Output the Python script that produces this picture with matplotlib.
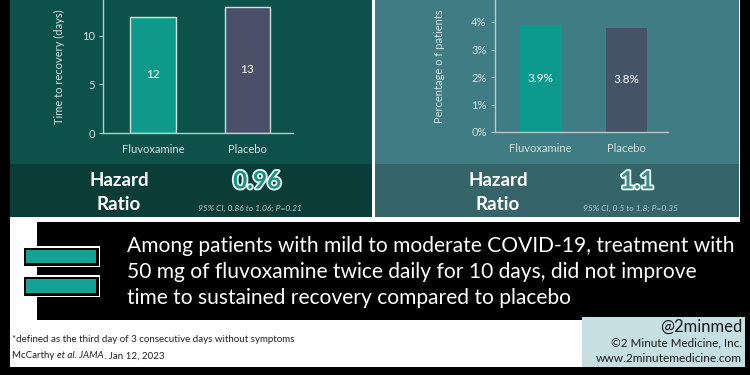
import matplotlib
matplotlib.use("Agg")
import matplotlib.pyplot as plt
from matplotlib.patches import Rectangle
import matplotlib.patheffects as pe

# ---------------- data ----------------
categories = ["Fluvoxamine", "Placebo"]
recovery_days = [12, 13]
recovery_labels = ["12", "13"]
recovery_ticks = [0, 5, 10]
hosp_pct = [3.9, 3.8]
hosp_labels = ["3.9%", "3.8%"]
hosp_ticks = [0, 1, 2, 3, 4]
hosp_ticklabels = ["0%", "1%", "2%", "3%", "4%"]
hr_left = "0.96"
ci_left = "95% CI, 0.86 to 1.06; P=0.21"
hr_right = "1.1"
ci_right = "95% CI, 0.5 to 1.8; P=0.35"
headline = ("Among patients with mild to moderate COVID-19, treatment with\n"
            "50 mg of fluvoxamine twice daily for 10 days, did not improve\n"
            "time to sustained recovery compared to placebo")
footnote = "*defined as the third day of 3 consecutive days without symptoms"

FONT = "Lato"
plt.rcParams['font.family'] = [FONT, 'DejaVu Sans']

W, H = 750, 375
fig = plt.figure(figsize=(7.5, 3.75), dpi=100)
fig.patch.set_facecolor("black")


def rect(x0, y0, x1, y1, color, z=0, **kw):
    fig.add_artist(Rectangle((x0 / W, 1 - y1 / H), (x1 - x0) / W, (y1 - y0) / H,
                             transform=fig.transFigure, facecolor=color,
                             edgecolor=kw.pop("ec", "none"), zorder=z, **kw))


def txt(x, y, s, **kw):
    return fig.text(x / W, 1 - y / H, s, **kw)


# backgrounds
rect(10, 0, 740, 367, "white", z=0)
rect(10, 0, 372, 164, "#0c524b", z=1)
rect(10, 164, 372, 217, "#0a3d38", z=1)
rect(375, 0, 739, 164, "#407c83", z=1)
rect(375, 164, 739, 217, "#356569", z=1)
rect(37, 222, 750, 320, "black", z=1)
rect(582, 317, 745, 367, "#c6dfe3", z=2)

# icon
for (y0, y1) in [(246, 267), (275, 297)]:
    rect(22, y0, 100, y1, "white", z=3)
    rect(23.5, y0 + 1.5, 98.5, y1 - 1.5, "black", z=3)
    rect(26, y0 + 4, 96, y1 - 4, "#14a196", z=3)

tick_col = "#d5e2e0"
spine_col = "#b9cbc9"


def make_axes(x0, x1, ybot, ymax, vals, labels, colors, edge, ticks, ticklabels, ylabel, ylabel_x):
    ax = fig.add_axes([x0 / W, 1 - ybot / H, (x1 - x0) / W, ybot / H])
    ax.set_facecolor("none")
    ax.set_zorder(5)
    xs = list(range(len(categories)))
    ax.bar(xs, vals, width=0.48, color=colors,
           edgecolor=edge if edge else "none", linewidth=1.0 if edge else 0)
    for xi, v, lab in zip(xs, vals, labels):
        ax.text(xi, v / 2, lab, ha="center", va="center", color="white", fontsize=8.5)
    ax.set_xlim(-0.53, 1.485)
    ax.set_ylim(0, ymax)
    ax.set_xticks(xs)
    ax.set_xticklabels(categories)
    ax.set_yticks(ticks)
    ax.set_yticklabels(ticklabels)
    for s in ["top", "right"]:
        ax.spines[s].set_visible(False)
    for s in ["left", "bottom"]:
        ax.spines[s].set_color(spine_col)
        ax.spines[s].set_linewidth(1.0)
    ax.tick_params(axis="y", colors=spine_col, labelcolor=tick_col, length=3, labelsize=8, pad=3)
    ax.tick_params(axis="x", length=0, labelcolor=tick_col, labelsize=8, pad=8)
    ax.set_ylabel(ylabel, color=tick_col, fontsize=8)
    ax.yaxis.set_label_coords(ylabel_x, 0.5)
    return ax


make_axes(103, 293, 133, 13.7, recovery_days, recovery_labels,
          ["#0e9a8b", "#4a5068"], "#cfe2de", recovery_ticks,
          [str(t) for t in recovery_ticks], "Time to recovery (days)", -0.2)
make_axes(495, 668, 132, 4.8, hosp_pct, hosp_labels,
          ["#0b9a8c", "#445466"], None, hosp_ticks, hosp_ticklabels,
          "Percentage o f patients", -0.29)

# hazard ratio bands
for cx, hx, hr, ci, fill in [(119, 257, hr_left, ci_left, "#1d8f83"),
                             (498, 637, hr_right, ci_right, "#3f8a86")]:
    txt(cx, 181, "Hazard", ha="center", va="center", color="white",
        fontsize=13.5, fontweight="bold", zorder=6)
    txt(cx, 204, "Ratio", ha="center", va="center", color="white",
        fontsize=13.5, fontweight="bold", zorder=6)
    t = txt(hx, 181, hr, ha="center", va="center", color=fill,
            fontsize=17.5, fontweight="bold", zorder=6)
    t.set_path_effects([pe.Stroke(linewidth=2.6, foreground="#e6fbf7"), pe.Normal()])
    txt(hx - 7, 208, ci, ha="center", va="center", color="#b9c9c7",
        fontsize=6.1, style="italic", zorder=6)

# headline
txt(127, 272, headline, ha="left", va="center", color="white",
    fontsize=15.1, linespacing=1.38, zorder=6)

# footer
txt(12, 340, footnote, ha="left", va="center", color="#222222", fontsize=7.0, zorder=6)
pieces = [("McCarthy ", "normal"), ("et al. JAMA", "italic"), (". Jan 12, 2023", "normal")]
fig.canvas.draw()
r = fig.canvas.get_renderer()
x = 12
for s, st in pieces:
    t = txt(x, 356, s, ha="left", va="center", color="#222222", fontsize=7.0, style=st, zorder=6)
    bb = t.get_window_extent(renderer=r)
    x += bb.width

txt(742, 327, "@2minmed", ha="right", va="center", color="#1a1a1a", fontsize=12, zorder=6)
txt(742, 343, "\u00a92 Minute Medicine, Inc.", ha="right", va="center", color="#1a1a1a", fontsize=8.4, zorder=6)
txt(742, 358, "www.2minutemedicine.com", ha="right", va="center", color="#1a1a1a", fontsize=8.6, zorder=6)

fig.savefig("out.png", dpi=100, facecolor=fig.get_facecolor())
